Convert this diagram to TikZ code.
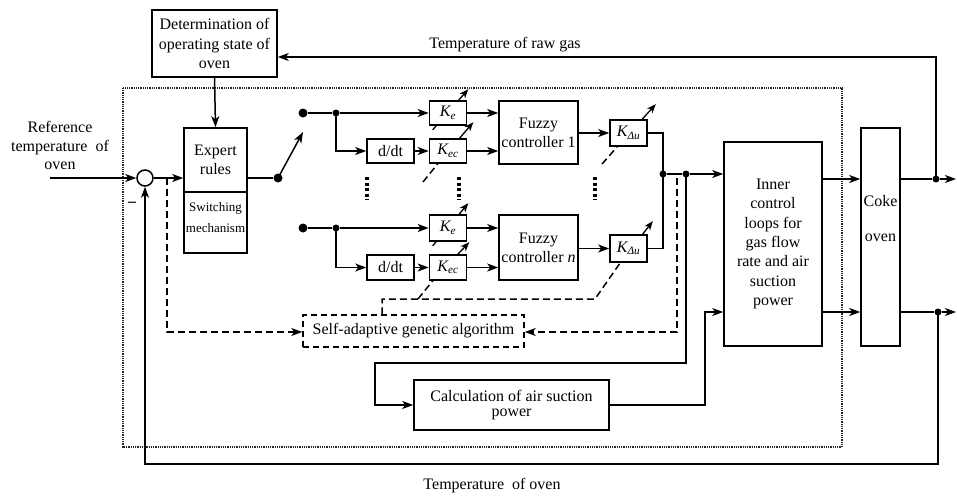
\documentclass[tikz,border=0pt]{standalone}
\usepackage{fontspec}
\setmainfont{Liberation Serif}
\usetikzlibrary{arrows.meta,calc,backgrounds}
\begin{document}
\begin{tikzpicture}[x=1pt,y=-1pt,
  font=\fontsize{16}{19.3}\selectfont,
  ln/.style={line width=1.5pt},
  arr/.style={ln,-{Stealth[length=11pt,width=8pt,inset=3pt]}},
  blk/.style={draw,line width=1.6pt,fill=white,inner sep=0pt,align=center},
  dsh/.style={line width=1.5pt,dash pattern=on 7pt off 4pt},
  darr/.style={dsh,-{Stealth[length=11pt,width=8pt,inset=3pt]}},
  jdot/.style={circle,fill=black,inner sep=0pt,minimum size=#1},
  jdot/.default=7pt,
  gbox/.style={blk,minimum width=37pt},
  vg/.style={line width=1.3pt,-{Stealth[length=9pt,width=7pt,inset=2.5pt]}},
  ellip/.style={line width=3.5pt,dash pattern=on 3pt off 2.5pt}
]
\useasboundingbox (0,0) rectangle (957,495);

% dotted frame
\draw[line width=1.2pt,black!85,dash pattern=on 1pt off 0.8pt] (123,88) rectangle (842,447);

% blocks
\node[blk,minimum width=125pt,minimum height=67pt] (det) at (214.5,43.5) {Determination of\\operating state of\\oven};
\node[blk,minimum width=63pt,minimum height=64pt] (exp) at (215.5,160) {Expert\\rules};
\node[blk,minimum width=63pt,minimum height=61pt] (swm) at (215.5,222.5) {};
\node[align=center,font=\fontsize{13}{21}\selectfont] (swmt) at (215.5,218) {Switching\\mechanism};

\node[gbox,minimum height=24pt] (ke1) at (448,113) {{\itshape K}\textsubscript{\itshape e}};
\node[blk,minimum width=47pt,minimum height=24pt] (ddt1) at (390.5,151) {d/dt};
\node[gbox,minimum height=24pt] (kec1) at (448,151) {{\itshape K}\textsubscript{\itshape ec}};
\node[blk,minimum width=79pt,minimum height=63pt] (fz1) at (538.5,132.5) {Fuzzy\\controller 1};
\node[gbox,minimum height=26pt] (ku1) at (628.5,133) {{\itshape K}\textsubscript{\itshape Δu}};

\node[gbox,minimum height=26pt] (ke2) at (448,228) {{\itshape K}\textsubscript{\itshape e}};
\node[blk,minimum width=47pt,minimum height=25pt] (ddt2) at (390.5,267.5) {d/dt};
\node[gbox,minimum height=25pt] (kec2) at (448,267.5) {{\itshape K}\textsubscript{\itshape ec}};
\node[blk,minimum width=79pt,minimum height=65pt] (fz2) at (538.5,247.5) {Fuzzy\\controller {\itshape n}};
\node[gbox,minimum height=27pt] (ku2) at (628.5,248.5) {{\itshape K}\textsubscript{\itshape Δu}};

\node[draw,line width=1.5pt,dash pattern=on 6pt off 4pt,fill=white,inner sep=0pt,minimum width=221pt,minimum height=32pt] (sag) at (413.5,331) {Self-adaptive genetic algorithm};

\node[blk,minimum width=98pt,minimum height=204pt] (inner) at (773,244) {Inner\\control\\loops for\\gas flow\\rate and air\\suction\\power};
\node[blk,minimum width=39pt,minimum height=218pt] (coke) at (880.5,237) {};
\node (cokeA) at (880.5,201) {Coke};
\node (cokeB) at (880.5,238) {oven};
\node[blk,minimum width=195pt,minimum height=50pt,font=\fontsize{16}{15}\selectfont] (calc) at (511.5,405) {Calculation of air suction\\power};

\node[circle,draw,line width=1.5pt,fill=white,minimum size=16pt,inner sep=0pt] (sum) at (145,178) {};

% labels
\node[align=center,font=\fontsize{16}{18.5}\selectfont] (ref) at (60,145.5) {Reference\\temperature~ of\\oven};
\node (rawlbl) at (505,45) {Temperature of raw gas};
\node (ovenlbl) at (492,486) {Temperature~ of oven};
\node[font=\fontsize{16}{16}\bfseries\selectfont] (minus) at (132,204) {–};

% variable gain arrows (behind boxes)
\begin{scope}[on background layer]
\draw[vg] ($(ke1.south west)+(4,4)$) -- ($(ke1.north east)+(1,-11)$);
\draw[vg] ($(ke2.south west)+(4,4)$) -- ($(ke2.north east)+(1,-11)$);
\coordinate (kt1) at ($(kec1.south west)+(9,0)$);
\draw[dsh] (423,182) -- (kt1);
\draw[vg] (kt1) -- ($(kec1.north east)+(6,-16)$);
\coordinate (kt2) at ($(kec2.south west)+(4,0)$);
\draw[vg] (kt2) -- ($(kec2.north east)+(2,-12)$);
\coordinate (ut1) at ($(ku1.south west)+(8,0)$);
\draw[dsh] (602,164) -- (ut1);
\draw[vg] (ut1) -- ($(ku1.north east)+(8,-15)$);
\coordinate (ut2) at ($(ku2.south west)+(11,0)$);
\draw[vg] (ut2) -- ($(ku2.north east)+(5,-13)$);
\end{scope}

% ellipses
\draw[ellip] (367,177) -- (367,200);
\draw[ellip] (459,177) -- (459,200);
\draw[ellip] (595,177) -- (595,200);

% input and summing
\coordinate (in) at (50,178);
\draw[arr] (in) -- (sum.west);
\draw[arr] (sum.east) -- (exp.west |- sum);
\draw[arr] (det.south) -- (exp.north);

% switch
\node[jdot=9pt] (sw0) at (278,178) {};
\node[jdot=9pt] (p1) at (303,113) {};
\node[jdot=9pt] (p2) at (303,228) {};
\coordinate (swtip) at (303,132);
\draw[ln] (exp.east |- sw0) -- (sw0);
\draw[arr] (sw0.center) -- (swtip);

% row 1
\node[jdot] (b1) at (336,113) {};
\draw[ln] (p1) -- (b1);
\draw[arr] (b1) -- (ke1.west);
\draw[arr] (b1.center) |- (ddt1.west);
\draw[arr] (ddt1) -- (kec1);
\draw[arr] (ke1.east) -- (fz1.west |- ke1);
\draw[arr] (kec1.east) -- (fz1.west |- kec1);
\draw[arr] (fz1.east |- ku1) -- (ku1.west);

% row n
\node[jdot] (b2) at (336,228) {};
\draw[ln] (p2) -- (b2);
\draw[arr] (b2) -- (ke2.west);
\draw[arr] (b2.center) |- (ddt2.west);
\draw[arr] (ddt2) -- (kec2);
\draw[arr] (ke2.east) -- (fz2.west |- ke2);
\draw[arr] (kec2.east) -- (fz2.west |- kec2);
\draw[arr] (fz2.east |- ku2) -- (ku2.west);

% summation of outputs
\node[jdot] (j1) at (663,174) {};
\node[jdot] (j2) at (686,174) {};
\draw[ln] (ku1.east) -| (j1.center);
\draw[ln] (ku2.east) -| (j1.center);
\draw[ln] (j1) -- (j2);
\draw[arr] (j2) -- (inner.west |- j2);

% calculation of air suction power
\coordinate (c1) at (375,363);
\draw[arr] (j2.center) |- (c1) |- (calc.west);
\coordinate (c3) at (705,312);
\draw[arr] (calc.east) -| (c3) -- (inner.west |- c3);

% inner -> coke
\coordinate (y1) at (0,179);
\coordinate (y2) at (0,312);
\draw[arr] (inner.east |- y1) -- (coke.west |- y1);
\draw[arr] (inner.east |- y2) -- (coke.west |- y2);

% outputs
\node[jdot] (o1) at (936,179) {};
\node[jdot] (o2) at (938,312) {};
\coordinate (e1) at (956,179);
\coordinate (e2) at (956,312);
\draw[ln] (coke.east |- o1) -- (o1);
\draw[arr] (o1) -- (e1);
\draw[ln] (coke.east |- o2) -- (o2);
\draw[arr] (o2) -- (e2);

% feedbacks
\coordinate (t1) at (936,57);
\draw[arr] (o1.center) -- (t1) -- (det.east |- t1);
\coordinate (bb1) at (938,464);
\coordinate (bb2) at (145,464);
\draw[arr] (o2.center) -- (bb1) -- (bb2) -- (sum.south);

% dashed adaptation loops
\coordinate (dl1) at (167,178);
\coordinate (dl2) at (167,332);
\draw[darr] (dl1) -- (dl2) -- (sag.west |- dl2);
\coordinate (dr1) at (677,178);
\coordinate (dr2) at (677,332);
\draw[darr] (dr1) -- (dr2) -- (sag.east |- dr2);
\coordinate (s1) at (382,299);
\coordinate (s2) at (595,299);
\coordinate (s3) at (418,299);
\draw[dsh] (sag.north -| s1) -- (s1) -- (s2) -- (ut2);
\draw[dsh] (s3) -- (kt2);
\end{tikzpicture}
\end{document}
